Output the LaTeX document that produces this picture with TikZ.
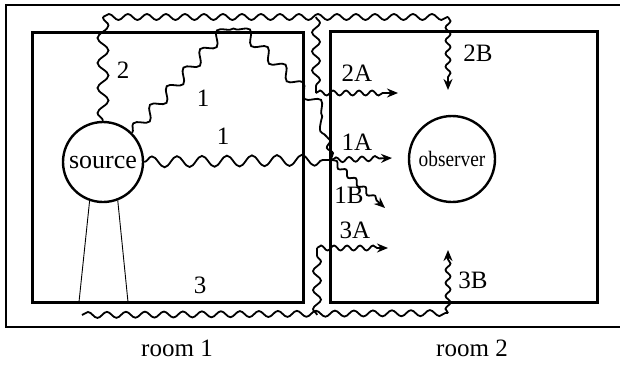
\documentclass[tikz,border=0pt]{standalone}
\usepackage{fontspec}
\setmainfont{Liberation Serif}
\usepackage{tikz}
\usetikzlibrary{arrows.meta}
\usetikzlibrary{decorations.pathmorphing}
\tikzset{
  wall/.style={line width=3pt},
  wave/.style={line width=1.8pt, decorate, decoration={snake, amplitude=5.5pt, segment length=25pt}},
  mid/.style={decoration={amplitude=4pt, segment length=19pt}},
  flat/.style={decoration={amplitude=3pt, segment length=19pt}},
  small/.style={decoration={amplitude=2.5pt, segment length=13pt}},
  tip/.style={-{Stealth[length=11pt,width=9pt]}, decoration={post length=9pt}},
  lbl/.style={font=\fontsize{25}{27}\selectfont, inner sep=0pt}
}

\begin{document}
\begin{tikzpicture}[x=1pt, y=-1pt]
                \useasboundingbox (0,0) rectangle (620,364);
                % Building and rooms
                \draw[line width=2.4pt] (620,5) -- (6,5) -- (6,327) -- (620,327);
                \draw[wall] (32,32) rectangle (303,302);
                \draw[wall] (330,31) rectangle (597,302);
                % Source on its stand, observer
                \node[circle, draw, line width=2.4pt, minimum size=80pt, inner sep=0pt, font=\fontsize{26}{28}\selectfont] (source) at (103,162) {source};
                \draw[line width=0.9pt] (source.-109) -- (79,302);
                \draw[line width=0.9pt] (source.-69) -- (128,302);
                \node[circle, draw, line width=2.4pt, minimum size=86pt, inner sep=0pt, font=\fontsize{22}{24}\selectfont] (observer) at (452,159) {\scalebox{0.88}[1]{observer}};
                % Bends of the paths
                \coordinate (c2) at (103,17);
                \coordinate (b2) at (316,17);
                \coordinate (t2) at (448,17);
                \coordinate (e2B) at (448,90);
                \coordinate (k2) at (316,93);
                \coordinate (e2A) at (398,93);
                \coordinate (apex) at (222,33);
                \coordinate (w1) at (327,137);
                \coordinate (j1) at (332,160);
                \coordinate (e1A) at (392,158);
                \coordinate (e1B) at (385,208);
                \coordinate (s3) at (82,315);
                \coordinate (b3) at (317,315);
                \coordinate (t3) at (448,313);
                \coordinate (e3B) at (448,250);
                \coordinate (k3) at (317,248);
                \coordinate (e3A) at (388,248);
                % Path 1
                \draw[wave] (source.east) -- (j1);
                \draw[wave] (source.45) -- (apex) -- (w1);
                \draw[wave, small] (w1) -- (j1);
                \draw[wave, small, tip] (j1) -- (e1A);
                \draw[wave, small, tip] (j1) -- (e1B);
                % Path 2
                \draw[wave] (source.north) -- (c2);
                \draw[wave, flat] (c2) -- (t2);
                \draw[wave, small, tip] (t2) -- (e2B);
                \draw[wave, mid] (b2) -- (k2);
                \draw[wave, small, tip] (k2) -- (e2A);
                % Path 3
                \draw[wave, flat] (s3) -- (t3);
                \draw[wave, small, tip] (t3) -- (e3B);
                \draw[wave, mid] (b3) -- (k3);
                \draw[wave, small, tip] (k3) -- (e3A);
                % Labels
                \node[lbl] (l2) at (123,70) {2};
                \node[lbl] (l1d) at (203,98) {1};
                \node[lbl] (l1h) at (223,136) {1};
                \node[lbl] (l3) at (200,285) {3};
                \node[lbl] (l2A) at (357,73) {2A};
                \node[lbl] (l2B) at (478,53) {2B};
                \node[lbl] (l1A) at (357,142) {1A};
                \node[lbl] (l1B) at (349,195) {1B};
                \node[lbl] (l3A) at (355,230) {3A};
                \node[lbl] (l3B) at (473,280) {3B};
                \node[lbl] (room1) at (177,348) {room 1};
                \node[lbl] (room2) at (472,348) {room 2};
            \end{tikzpicture}
\end{document}
